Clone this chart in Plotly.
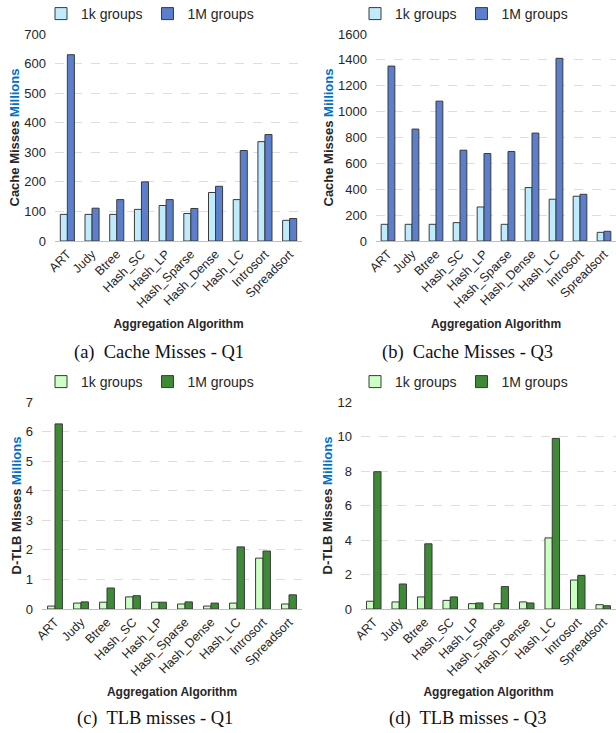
import plotly.graph_objects as go

# Aggregation algorithms on the x axis
algorithms = ["ART", "Judy", "Btree", "Hash_SC", "Hash_LP", "Hash_Sparse",
              "Hash_Dense", "Hash_LC", "Introsort", "Spreadsort"]

# Cache misses (millions)
cache_q1_1k = [90, 90, 90, 107, 120, 93, 164, 140, 336, 70]
cache_q1_1m = [630, 111, 140, 200, 140, 110, 185, 306, 360, 76]
cache_q3_1k = [129, 129, 129, 142, 263, 129, 413, 323, 346, 67]
cache_q3_1m = [1352, 865, 1081, 702, 676, 692, 834, 1412, 361, 75]

# D-TLB misses (millions)
tlb_q1_1k = [0.10, 0.20, 0.23, 0.41, 0.23, 0.17, 0.10, 0.20, 1.72, 0.17]
tlb_q1_1m = [6.26, 0.24, 0.71, 0.45, 0.23, 0.24, 0.20, 2.10, 1.96, 0.48]
tlb_q3_1k = [0.45, 0.41, 0.70, 0.50, 0.31, 0.31, 0.41, 4.12, 1.68, 0.25]
tlb_q3_1m = [7.96, 1.45, 3.78, 0.70, 0.35, 1.30, 0.35, 9.89, 1.94, 0.19]

series_names = ["1k groups", "1M groups"]
captions = ["(a)  Cache Misses - Q1", "(b)  Cache Misses - Q3",
            "(c)  TLB misses - Q1", "(d)  TLB misses - Q3"]

BLUE_LIGHT, BLUE_DARK = "#BFEBFB", "#5B7FCD"
GREEN_LIGHT, GREEN_DARK = "#CCFFC4", "#3F8A36"
TEXT = "#262626"
SANS = "Liberation Sans, Arial, sans-serif"
SERIF = "Liberation Serif, Times New Roman, serif"

panels = [
    # (1k, 1M, colours, axis suffix, legend id, y title, y range, dtick)
    (cache_q1_1k, cache_q1_1m, (BLUE_LIGHT, BLUE_DARK), "", "legend", "Cache Misses", 700, 100),
    (cache_q3_1k, cache_q3_1m, (BLUE_LIGHT, BLUE_DARK), "2", "legend2", "Cache Misses", 1600, 200),
    (tlb_q1_1k, tlb_q1_1m, (GREEN_LIGHT, GREEN_DARK), "3", "legend3", "D-TLB Misses", 7, 1),
    (tlb_q3_1k, tlb_q3_1m, (GREEN_LIGHT, GREEN_DARK), "4", "legend4", "D-TLB Misses", 12, 2),
]

W, H = 616, 733
x_domains = [(55, 302), (376, 616), (42, 302), (361, 616)]
y_domains = [(34, 241), (34, 241), (402, 609), (402, 609)]
legend_pos = [(150, 14), (464, 14), (150, 382), (464, 382)]
caption_pos = [(159, 352), (467, 352), (155, 718), (467, 718)]

fig = go.Figure()
layout = dict(
    width=W, height=H, margin=dict(l=0, r=0, t=0, b=0, autoexpand=False),
    paper_bgcolor="white", plot_bgcolor="white",
    barmode="group", bargap=0.43, bargroupgap=0.0,
    font=dict(family=SANS, color=TEXT, size=12),
    annotations=[],
)

for i, (v1k, v1m, colors, sfx, leg, ytitle, ymax, dtick) in enumerate(panels):
    for name, vals, col in zip(series_names, (v1k, v1m), colors):
        fig.add_trace(go.Bar(
            x=algorithms, y=vals, name=name,
            marker=dict(color=col, line=dict(color="#3A3A3A", width=1)),
            xaxis="x" + sfx, yaxis="y" + sfx, legend=leg,
        ))

    x0, x1 = x_domains[i]
    yt, yb = y_domains[i]
    layout["xaxis" + sfx] = dict(
        domain=[x0 / W, x1 / W], anchor="y" + sfx, automargin=False,
        tickangle=-45, tickfont=dict(size=12.5, color=TEXT),
        showline=True, linecolor="#BFBFBF", linewidth=1,
        ticks="", showgrid=False,
        title=dict(text="<b>Aggregation Algorithm</b>",
                   font=dict(size=12, color=TEXT), standoff=9),
    )
    layout["yaxis" + sfx] = dict(
        domain=[1 - yb / H, 1 - yt / H], anchor="x" + sfx, automargin=False,
        range=[0, ymax], dtick=dtick,
        tickfont=dict(size=13, color=TEXT), ticklabelstandoff=8,
        showgrid=True, gridcolor="#DDDDDD", griddash="dash", gridwidth=1,
        zeroline=False, showline=False, ticks="",
        title=dict(text="<b>" + ytitle + " <span style='color:#0070C0'>Millions</span></b>",
                   font=dict(size=13, color=TEXT), standoff=1),
    )
    lx, ly = legend_pos[i]
    layout[leg] = dict(
        orientation="h", x=lx / W, y=1 - ly / H,
        xanchor="center", yanchor="middle",
        font=dict(size=14, color=TEXT), itemwidth=30,
        bgcolor="rgba(0,0,0,0)",
    )
    cx, cy = caption_pos[i]
    layout["annotations"].append(dict(
        text=captions[i], x=cx / W, y=1 - cy / H,
        xref="paper", yref="paper", showarrow=False,
        xanchor="center", yanchor="middle",
        font=dict(family=SERIF, size=18.5, color="#111111"),
    ))

fig.update_layout(**layout)
fig.write_html("out.html")
